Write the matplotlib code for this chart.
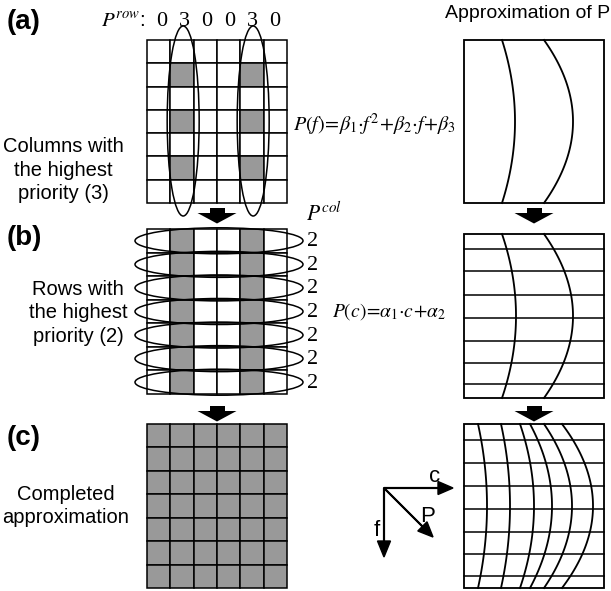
import numpy as np
import matplotlib.pyplot as plt
from matplotlib.patches import Rectangle, Ellipse, Polygon, FancyArrow

plt.rcParams['font.family'] = ['Liberation Sans', 'DejaVu Sans']
plt.rcParams['mathtext.fontset'] = 'stix'

W, H = 611, 591
GREY = '#999999'
LW = 1.1

# priorities of the sample grid
p_row = [0, 3, 0, 0, 3, 0]
p_col = [2, 2, 2, 2, 2, 2, 2]
sampled_rows = [1, 3, 5]
n_cols, n_rows = len(p_row), len(p_col)

# fitted curves in the right-hand panels, x at the box edge and at mid height
curve_a_end = [502, 544]
curve_a_mid = [515, 573]
curve_b_end = [502, 544]
curve_b_mid = [516, 573]
curve_c_end = [478, 501, 520, 530, 544, 562]
curve_c_mid = [487, 510, 534, 552, 572, 593]
# horizontal lines in the right-hand panels
rows_b = [249, 271, 295, 318, 341, 363, 384]
rows_c = [440, 463, 486, 509, 532, 554, 576]

fig = plt.figure(figsize=(W / 100, H / 100), dpi=100)
ax = fig.add_axes([0, 0, 1, 1])
ax.set_xlim(0, W)
ax.set_ylim(H, 0)
ax.axis('off')

GX0, GX1 = 147, 287
RX0, RX1 = 464, 604
LABEL_FS = 14.5


def draw_grid(y0, y1, shade):
    cw = (GX1 - GX0) / n_cols
    rh = (y1 - y0) / n_rows
    for r in range(n_rows):
        for c in range(n_cols):
            fc = GREY if shade(r, c) else 'white'
            ax.add_patch(Rectangle((GX0 + c * cw, y0 + r * rh), cw, rh,
                                   facecolor=fc, edgecolor='black', lw=LW, zorder=1))
    return cw, rh


def draw_box(y0, y1, ends, mids, rows=()):
    ax.add_patch(Rectangle((RX0, y0), RX1 - RX0, y1 - y0, facecolor='white',
                           edgecolor='black', lw=LW * 1.2, zorder=1))
    for y in rows:
        ax.plot([RX0, RX1], [y, y], color='black', lw=LW, zorder=2)
    yy = np.linspace(y0, y1, 100)
    ym, hh = (y0 + y1) / 2, (y1 - y0) / 2
    for xe, xm in zip(ends, mids):
        xx = xm - (xm - xe) * ((yy - ym) / hh) ** 2
        ax.plot(xx, yy, color='black', lw=LW * 1.2, zorder=3)


def down_arrow(cx, ytop):
    ax.add_patch(Rectangle((cx - 7.5, ytop), 15, 5.5, color='black', lw=0))
    ax.add_patch(Polygon([(cx - 19.5, ytop + 5), (cx + 19.5, ytop + 5), (cx, ytop + 15.5)],
                         closed=True, color='black', lw=0))


# (a) columns with the highest priority
ya0, ya1 = 40, 203
cw, rh = draw_grid(ya0, ya1, lambda r, c: p_row[c] == max(p_row) and r in sampled_rows)
for c, p in enumerate(p_row):
    ax.text(162 + c * 22.5, 21, str(p), fontsize=16, family='Liberation Serif',
            ha='center', va='center')
    if p == max(p_row):
        ax.add_patch(Ellipse((GX0 + (c + 0.55) * cw, 121), 32, 190, fill=False,
                             edgecolor='black', lw=LW, zorder=4))
ax.text(145, 21, r'$P^{row}$:', fontsize=15, ha='right', va='center')
ax.text(7, 22, '(a)', fontsize=20, fontweight='bold', va='center')
ax.text(63, 170, 'Columns with\nthe highest\npriority (3)', fontsize=LABEL_FS, ha='center',
        va='center', linespacing=1.3)
ax.text(293, 125, r'$P(f)\!=\!\beta_1{\cdot}f^2\!+\!\beta_2{\cdot}f\!+\!\beta_3$',
        fontsize=14.5, ha='left', va='center')
ax.text(610, 14, 'Approximation of P', fontsize=14, ha='right', va='center')
draw_box(ya0, ya1, curve_a_end, curve_a_mid)

down_arrow(217, 208)
down_arrow(534, 208)

# (b) rows with the highest priority
yb0, yb1 = 229, 394
cw, rh = draw_grid(yb0, yb1, lambda r, c: p_row[c] == max(p_row))
for r, p in enumerate(p_col):
    yc = yb0 + (r + 0.5) * rh
    ax.add_patch(Ellipse((219, yc), 168, 26, fill=False, edgecolor='black', lw=LW, zorder=4))
    ax.text(307, yc + 1, str(p), fontsize=16, family='Liberation Serif', ha='left', va='center')
ax.text(306, 214, r'$P^{col}$', fontsize=15.5, ha='left', va='center')
ax.text(7, 238, '(b)', fontsize=20, fontweight='bold', va='center')
ax.text(78, 313, 'Rows with\nthe highest\npriority (2)', fontsize=LABEL_FS, ha='center',
        va='center', linespacing=1.3)
ax.text(332, 312, r'$P(c)\!=\!\alpha_1{\cdot}c\!+\!\alpha_2$', fontsize=14,
        ha='left', va='center')
draw_box(234, 398, curve_b_end, curve_b_mid, rows_b)

down_arrow(217, 406)
down_arrow(534, 406)

# (c) completed approximation
yc0, yc1 = 424, 588
draw_grid(yc0, yc1, lambda r, c: True)
ax.text(7, 438, '(c)', fontsize=20, fontweight='bold', va='center')
ax.text(66, 506, 'Completed\napproximation', fontsize=LABEL_FS, ha='center', va='center',
        linespacing=1.3)
draw_box(yc0, yc1, curve_c_end, curve_c_mid, rows_c)

# direction axes
ox, oy = 384, 488
ax.add_patch(FancyArrow(ox, oy, 69, 0, width=0.8, head_width=13, head_length=15,
                        length_includes_head=True, color='black'))
ax.add_patch(FancyArrow(ox, oy, 0, 69, width=0.8, head_width=13, head_length=16,
                        length_includes_head=True, color='black'))
ax.add_patch(FancyArrow(ox, oy, 49, 49, width=0.8, head_width=13, head_length=15,
                        length_includes_head=True, color='black'))
ax.text(435, 476, 'c', fontsize=16, ha='center', va='center')
ax.text(377, 530, 'f', fontsize=16, ha='center', va='center')
ax.text(428, 516, 'P', fontsize=16, ha='center', va='center')

fig.savefig('out.png', dpi=100)
